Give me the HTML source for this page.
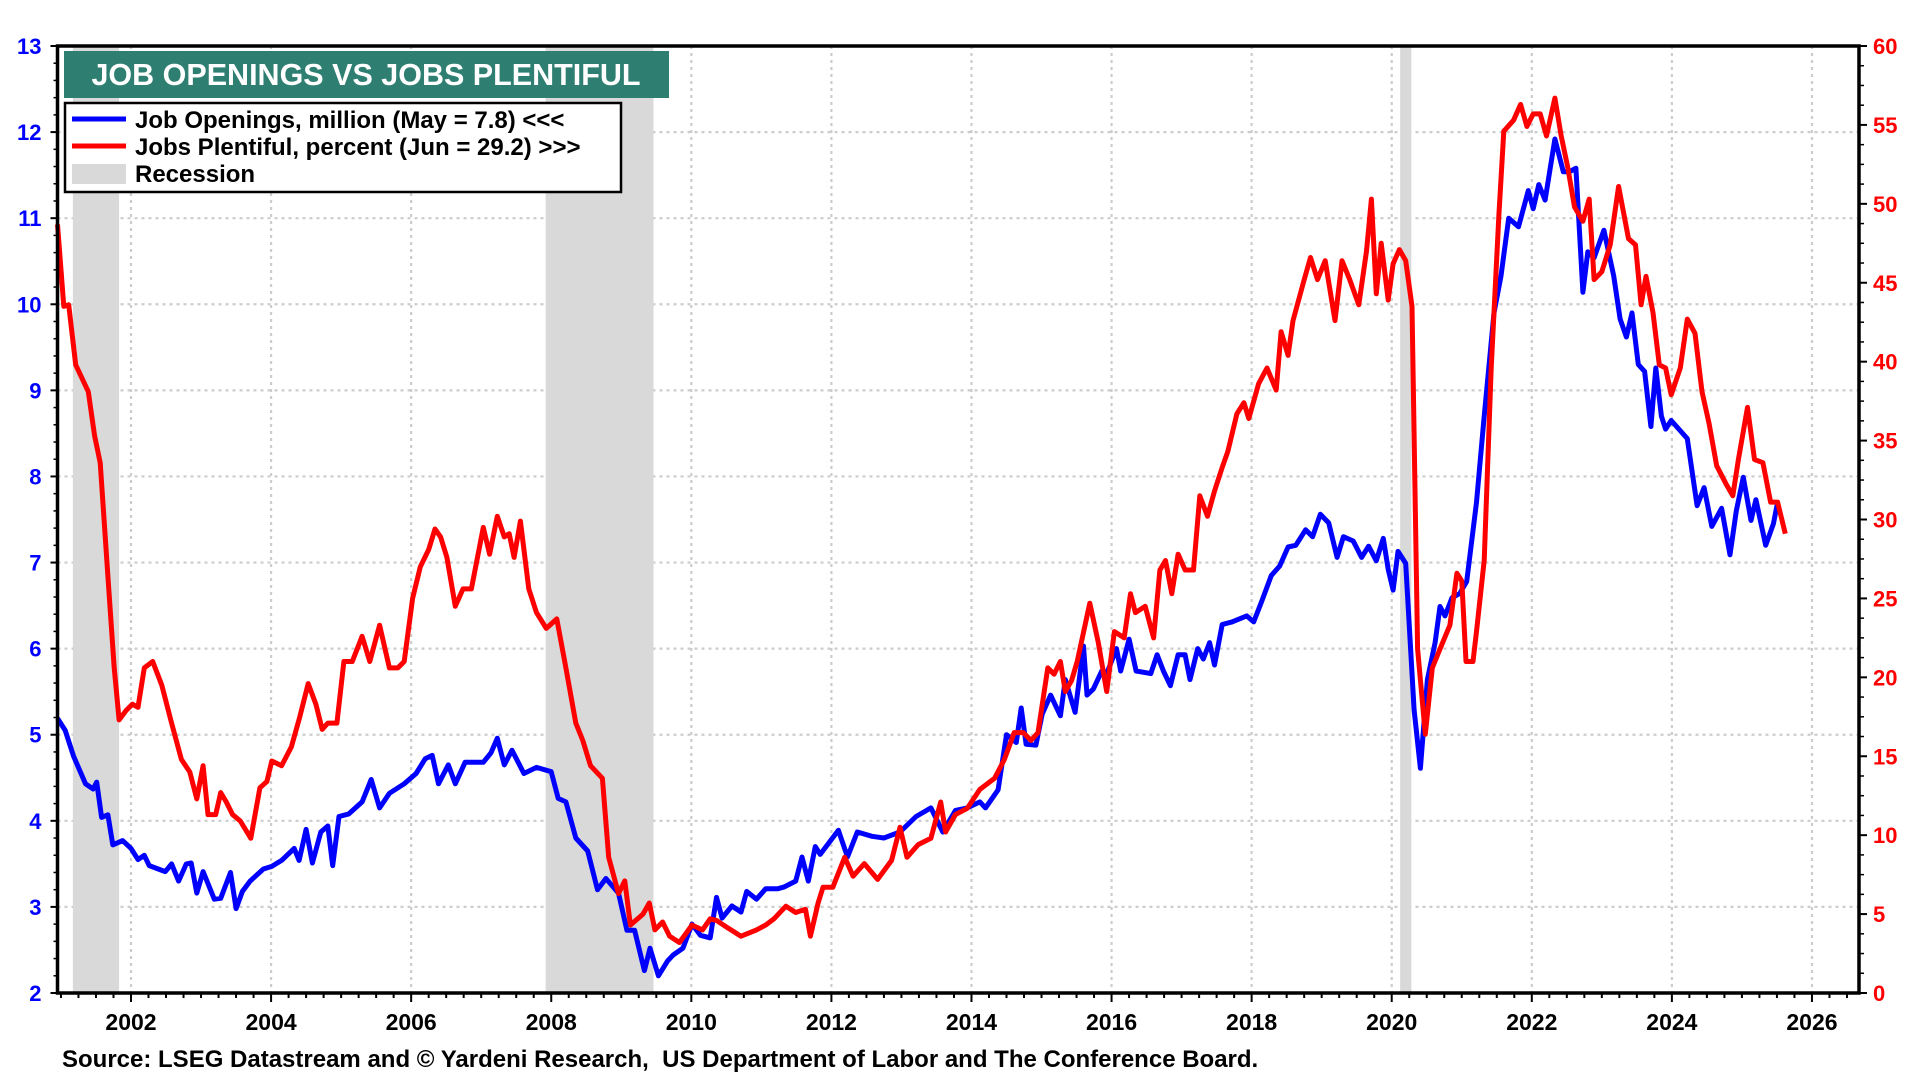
<!DOCTYPE html>
<html><head><meta charset="utf-8"><style>
html,body{margin:0;padding:0;background:#fff;}
svg{display:block;font-family:"Liberation Sans",Arial,sans-serif;}
</style></head><body>
<svg id="chart" width="1920" height="1080" viewBox="0 0 1920 1080">
<g id="grid"></g>
<g id="rec"></g>
<g id="lines"></g>
<g id="axes"></g>
<g>
<rect x="64" y="51" width="605" height="47" fill="#2e7f72"/>
<text x="366" y="85" text-anchor="middle" fill="#fff" font-size="30.5" font-weight="bold">JOB OPENINGS VS JOBS PLENTIFUL</text>
</g>
<g>
<rect x="65" y="103" width="556" height="89" fill="#fff" stroke="#000" stroke-width="2.5"/>
<g><line x1="72" y1="119" x2="126" y2="119" stroke="#0000ff" stroke-width="5"/><text x="135" y="128" font-size="24" font-weight="bold">Job Openings, million (May = 7.8) &lt;&lt;&lt;</text></g>
<g><line x1="72" y1="146" x2="126" y2="146" stroke="#ff0000" stroke-width="5"/><text x="135" y="155" font-size="24" font-weight="bold">Jobs Plentiful, percent (Jun = 29.2) &gt;&gt;&gt;</text></g>
<g><rect x="72" y="164" width="54" height="20" fill="#d9d9d9"/><text x="135" y="182" font-size="24" font-weight="bold">Recession</text></g>
</g>
<text x="62" y="1067" font-size="24" font-weight="bold">Source: LSEG Datastream and © Yardeni Research,&#160; US Department of Labor and The Conference Board.</text>
</svg>
<script>
const recStart=[2001.17,2007.92,2020.12];
const recEnd=[2001.83,2009.46,2020.28];
const leftTicks=[2,3,4,5,6,7,8,9,10,11,12,13];
const rightTicks=[0,5,10,15,20,25,30,35,40,45,50,55,60];
const yearTicks=[2002,2004,2006,2008,2010,2012,2014,2016,2018,2020,2022,2024,2026];
const openT=[2000.95,2001.06,2001.18,2001.35,2001.46,2001.51,2001.58,2001.67,2001.74,2001.88,2002.00,2002.10,2002.19,2002.26,2002.49,2002.58,2002.68,2002.79,2002.86,2002.94,2003.03,2003.19,2003.28,2003.42,2003.50,2003.59,2003.70,2003.89,2004.01,2004.15,2004.33,2004.40,2004.50,2004.59,2004.71,2004.81,2004.88,2004.97,2005.11,2005.30,2005.43,2005.55,2005.69,2005.90,2006.07,2006.20,2006.30,2006.39,2006.53,2006.63,2006.77,2007.03,2007.14,2007.23,2007.33,2007.44,2007.61,2007.79,2008.00,2008.10,2008.21,2008.35,2008.52,2008.66,2008.78,2008.96,2009.08,2009.19,2009.33,2009.41,2009.53,2009.66,2009.74,2009.88,2010.01,2010.13,2010.27,2010.36,2010.44,2010.58,2010.71,2010.79,2010.93,2011.06,2011.23,2011.32,2011.49,2011.58,2011.67,2011.77,2011.84,2012.10,2012.23,2012.37,2012.58,2012.75,2012.98,2013.21,2013.42,2013.59,2013.77,2013.94,2014.12,2014.20,2014.38,2014.50,2014.64,2014.71,2014.78,2014.92,2015.01,2015.13,2015.27,2015.34,2015.48,2015.60,2015.65,2015.74,2015.86,2015.93,2016.07,2016.13,2016.25,2016.35,2016.56,2016.65,2016.74,2016.84,2016.95,2017.05,2017.12,2017.23,2017.31,2017.40,2017.47,2017.58,2017.72,2017.93,2018.03,2018.14,2018.28,2018.40,2018.52,2018.63,2018.77,2018.87,2018.98,2019.10,2019.22,2019.31,2019.45,2019.57,2019.67,2019.78,2019.88,2019.95,2020.02,2020.09,2020.20,2020.32,2020.41,2020.51,2020.62,2020.69,2020.76,2020.86,2020.97,2021.07,2021.21,2021.32,2021.46,2021.56,2021.67,2021.81,2021.95,2022.02,2022.10,2022.19,2022.33,2022.45,2022.54,2022.63,2022.73,2022.80,2022.89,2023.03,2023.17,2023.26,2023.35,2023.43,2023.52,2023.61,2023.70,2023.77,2023.85,2023.91,2023.99,2024.22,2024.36,2024.46,2024.57,2024.71,2024.83,2024.92,2025.02,2025.13,2025.20,2025.34,2025.45,2025.51];
const openV=[5.19,5.05,4.75,4.43,4.37,4.45,4.04,4.07,3.72,3.77,3.68,3.55,3.6,3.48,3.41,3.5,3.3,3.5,3.51,3.16,3.41,3.09,3.1,3.4,2.98,3.18,3.3,3.44,3.47,3.54,3.68,3.54,3.9,3.51,3.87,3.94,3.48,4.05,4.08,4.22,4.48,4.15,4.32,4.43,4.55,4.72,4.76,4.43,4.65,4.43,4.68,4.68,4.79,4.96,4.65,4.82,4.55,4.62,4.57,4.26,4.22,3.8,3.65,3.2,3.33,3.16,2.73,2.73,2.26,2.52,2.2,2.37,2.44,2.52,2.8,2.67,2.64,3.11,2.87,3.01,2.94,3.18,3.09,3.21,3.21,3.23,3.3,3.58,3.3,3.7,3.61,3.89,3.58,3.87,3.82,3.8,3.87,4.05,4.15,3.87,4.12,4.15,4.22,4.15,4.36,5.0,4.91,5.31,4.89,4.88,5.24,5.46,5.22,5.64,5.26,6.03,5.46,5.53,5.74,5.71,6.0,5.74,6.11,5.74,5.71,5.93,5.74,5.57,5.93,5.93,5.64,6.0,5.88,6.07,5.81,6.28,6.31,6.38,6.31,6.54,6.85,6.96,7.18,7.2,7.38,7.3,7.56,7.46,7.06,7.3,7.25,7.06,7.19,7.02,7.28,6.92,6.68,7.13,6.99,5.29,4.61,5.64,6.07,6.49,6.38,6.59,6.64,6.78,7.7,8.7,9.9,10.33,11.0,10.9,11.32,11.11,11.39,11.21,11.92,11.54,11.54,11.58,10.14,10.61,10.54,10.86,10.33,9.83,9.62,9.9,9.3,9.22,8.58,9.26,8.7,8.55,8.65,8.44,7.66,7.87,7.42,7.63,7.09,7.6,7.99,7.49,7.73,7.2,7.45,7.7];
const plentT=[2000.95,2001.04,2001.11,2001.21,2001.39,2001.48,2001.56,2001.67,2001.76,2001.83,2001.93,2002.02,2002.10,2002.19,2002.31,2002.44,2002.58,2002.72,2002.84,2002.94,2003.03,2003.10,2003.21,2003.28,2003.36,2003.45,2003.56,2003.71,2003.84,2003.94,2004.01,2004.15,2004.29,2004.41,2004.53,2004.64,2004.73,2004.81,2004.94,2005.04,2005.16,2005.30,2005.41,2005.55,2005.69,2005.81,2005.90,2006.02,2006.13,2006.25,2006.34,2006.42,2006.51,2006.63,2006.74,2006.86,2007.03,2007.12,2007.23,2007.33,2007.40,2007.47,2007.56,2007.68,2007.79,2007.93,2008.08,2008.21,2008.35,2008.45,2008.56,2008.73,2008.82,2008.96,2009.05,2009.13,2009.31,2009.40,2009.48,2009.59,2009.69,2009.83,2010.01,2010.16,2010.27,2010.36,2010.53,2010.71,2010.93,2011.06,2011.18,2011.35,2011.49,2011.63,2011.70,2011.81,2011.88,2012.02,2012.19,2012.31,2012.47,2012.66,2012.86,2012.98,2013.08,2013.24,2013.42,2013.56,2013.63,2013.77,2013.94,2014.12,2014.33,2014.47,2014.61,2014.74,2014.85,2014.95,2015.09,2015.18,2015.27,2015.34,2015.43,2015.51,2015.69,2015.81,2015.93,2016.04,2016.18,2016.27,2016.34,2016.48,2016.60,2016.69,2016.77,2016.86,2016.95,2017.05,2017.17,2017.26,2017.37,2017.47,2017.58,2017.66,2017.79,2017.89,2017.96,2018.10,2018.22,2018.35,2018.42,2018.52,2018.59,2018.75,2018.84,2018.94,2019.05,2019.19,2019.29,2019.40,2019.53,2019.64,2019.71,2019.78,2019.85,2019.95,2020.02,2020.11,2020.20,2020.29,2020.37,2020.48,2020.58,2020.69,2020.83,2020.93,2021.00,2021.06,2021.16,2021.21,2021.32,2021.42,2021.53,2021.60,2021.74,2021.84,2021.93,2022.02,2022.12,2022.21,2022.33,2022.42,2022.51,2022.61,2022.73,2022.82,2022.89,2023.00,2023.12,2023.24,2023.38,2023.48,2023.56,2023.63,2023.73,2023.82,2023.91,2023.99,2024.12,2024.22,2024.33,2024.43,2024.53,2024.64,2024.78,2024.87,2024.95,2025.08,2025.18,2025.30,2025.41,2025.51,2025.62];
const plentV=[48.7,43.5,43.6,39.8,38.1,35.3,33.6,26.4,20.6,17.3,17.9,18.3,18.1,20.6,21.0,19.5,17.1,14.8,14.0,12.3,14.4,11.3,11.3,12.7,12.1,11.3,10.9,9.8,13.0,13.4,14.7,14.4,15.6,17.5,19.6,18.3,16.7,17.1,17.1,21.0,21.0,22.6,21.0,23.3,20.6,20.6,21.0,25.0,27.0,28.1,29.4,28.9,27.6,24.5,25.6,25.6,29.5,27.8,30.2,28.9,29.1,27.6,29.9,25.6,24.1,23.1,23.7,20.6,17.1,16.0,14.4,13.6,8.6,6.3,7.1,4.3,5.0,5.7,4.0,4.5,3.6,3.2,4.3,4.0,4.7,4.6,4.1,3.6,4.0,4.3,4.7,5.5,5.1,5.3,3.6,5.7,6.7,6.7,8.6,7.4,8.2,7.2,8.4,10.5,8.6,9.4,9.8,12.1,10.2,11.3,11.7,12.9,13.6,14.8,16.5,16.5,16.0,16.5,20.6,20.2,21.0,19.1,19.8,21.0,24.7,22.2,19.1,22.9,22.5,25.3,24.1,24.5,22.5,26.8,27.4,25.3,27.8,26.8,26.8,31.5,30.2,31.8,33.3,34.3,36.7,37.4,36.4,38.6,39.6,38.2,41.9,40.4,42.6,45.2,46.6,45.2,46.4,42.6,46.4,45.2,43.6,47.0,50.3,44.3,47.5,43.9,46.2,47.1,46.4,43.5,21.8,16.4,20.6,21.8,23.3,26.6,26.1,21.0,21.0,22.9,27.4,39.6,49.3,54.6,55.3,56.3,54.9,55.7,55.7,54.3,56.7,54.3,52.4,49.8,48.9,50.3,45.2,45.7,47.4,51.1,47.8,47.4,43.6,45.4,43.1,39.8,39.6,37.9,39.6,42.7,41.8,38.1,36.1,33.4,32.2,31.5,33.8,37.1,33.8,33.6,31.1,31.1,29.1];

const L=57.5,R=1859,T=46,B=993;
const xS=t=>131+(t-2002)*70.04;
const yL=v=>B-(v-2)/11*(B-T);
const yR=v=>B-v/60*(B-T);
const NS='http://www.w3.org/2000/svg';
function mk(tag,parent,attrs){const e=document.createElementNS(NS,tag);for(const k in attrs)e.setAttribute(k,attrs[k]);parent.appendChild(e);return e;}
const grid=document.getElementById('grid'),rec=document.getElementById('rec'),lines=document.getElementById('lines'),axes=document.getElementById('axes');
leftTicks.forEach(v=>{if(v===2||v===13)return;const e=mk('line',grid,{x1:L,x2:R,y1:yL(v),y2:yL(v),stroke:'#cccccc','stroke-width':2.2,'stroke-dasharray':'3 4'});

});
yearTicks.forEach(t=>{const e=mk('line',grid,{x1:xS(t),x2:xS(t),y1:T,y2:B,stroke:'#cccccc','stroke-width':2.2,'stroke-dasharray':'3 4'});

});
recStart.forEach((s,i)=>{const e=mk('rect',rec,{x:xS(s),y:T,width:xS(recEnd[i])-xS(s),height:B-T,fill:'#d9d9d9'});

});
function path(ts,vs,ys){return ts.map((t,i)=>(i?'L':'M')+xS(t).toFixed(1)+','+ys(vs[i]).toFixed(1)).join('');}
const pb=mk('path',lines,{d:path(openT,openV,yL),fill:'none',stroke:'#0000ff','stroke-width':5,'stroke-linejoin':'round'});


const pr=mk('path',lines,{d:path(plentT,plentV,yR),fill:'none',stroke:'#ff0000','stroke-width':5,'stroke-linejoin':'round'});


const fr=mk('rect',axes,{x:L,y:T,width:R-L,height:B-T,fill:'none',stroke:'#000','stroke-width':3.5});


leftTicks.forEach((v,i)=>{mk('line',axes,{x1:L-7,x2:L,y1:yL(v),y2:yL(v),stroke:'#000','stroke-width':2});
if(i<leftTicks.length-1)for(let k=1;k<5;k++){const yy=yL(v+k/5);mk('line',axes,{x1:L-4,x2:L,y1:yy,y2:yy,stroke:'#000','stroke-width':1.5});}
const tx=mk('text',axes,{x:L-16,y:yL(v)+8,'text-anchor':'end',fill:'#0000ff','font-size':22,'font-weight':'bold'});tx.textContent=v;

});
rightTicks.forEach((v,i)=>{mk('line',axes,{x1:R,x2:R+8,y1:yR(v),y2:yR(v),stroke:'#000','stroke-width':2});
if(i<rightTicks.length-1)for(let k=1;k<4;k++){const yy=yR(v+k*1.25);mk('line',axes,{x1:R,x2:R+5,y1:yy,y2:yy,stroke:'#000','stroke-width':1.5});}
const tx=mk('text',axes,{x:R+14,y:yR(v)+8,fill:'#ff0000','font-size':22,'font-weight':'bold'});tx.textContent=v;

});
for(let q=2001*4;q<=2026.6*4;q++){const t=q/4;const x=xS(t);if(x<L||x>R)continue;const major=q%8===0;
mk('line',axes,{x1:x,x2:x,y1:B,y2:B+(major?9:5),stroke:'#000','stroke-width':2});}
yearTicks.forEach(t=>{const tx=mk('text',axes,{x:xS(t),y:B+37,'text-anchor':'middle','font-size':23,'font-weight':'bold'});tx.textContent=t;

});
</script>
</body></html>
